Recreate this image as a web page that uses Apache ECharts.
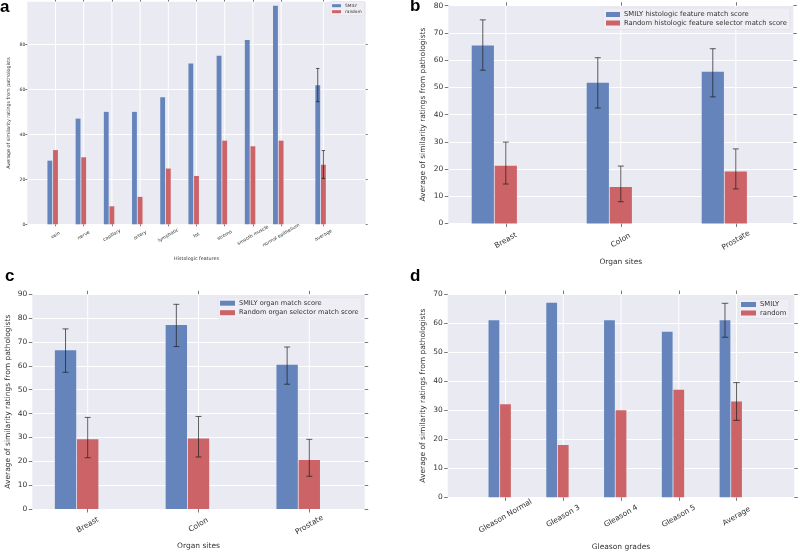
<!DOCTYPE html>
<html><head><meta charset="utf-8">
<script src="https://cdn.jsdelivr.net/npm/echarts@6/dist/echarts.min.js"></script>
<style>html,body{margin:0;padding:0;background:#fff}#c{width:798px;height:552px}</style>
</head><body><div id="c"></div>
<script>
// ---------- Panel a ----------
const aCategories = ['vein','nerve','capillary','artery','lymphatic','fat','stroma','smooth muscle','normal epithelium','average'];
const aPositions = [0,1,2,3,4,5,6,7,8,9.5];
const aSmily  = [28.3,47,50,50,56.5,71.5,75,82,97.2,61.8];
const aRandom = [33,29.8,8,12.2,24.8,21.5,37.2,34.7,37.2,26.5];
const aSmilyLow  = [null,null,null,null,null,null,null,null,null,54.5];
const aSmilyHigh = [null,null,null,null,null,null,null,null,null,69.3];
const aRandomLow  = [null,null,null,null,null,null,null,null,null,20.4];
const aRandomHigh = [null,null,null,null,null,null,null,null,null,32.8];
const aYTicks = [0,20,40,60,80];

// ---------- Panel b ----------
const bCategories = ['Breast','Colon','Prostate'];
const bPositions = [0,1,2];
const bSmily = [65.4,51.7,55.7];
const bSmilyLow = [56.3,42.4,46.5];
const bSmilyHigh = [74.8,60.9,64.2];
const bRandom = [21.2,13.4,19.1];
const bRandomLow = [14.5,8.0,12.7];
const bRandomHigh = [29.9,21.1,27.4];
const bYTicks = [0,10,20,30,40,50,60,70,80];

// ---------- Panel c ----------
const cCategories = ['Breast','Colon','Prostate'];
const cPositions = [0,1,2];
const cSmily = [66.5,77.1,60.5];
const cSmilyLow = [57.3,68.1,52.3];
const cSmilyHigh = [75.5,85.8,67.9];
const cRandom = [29.2,29.6,20.5];
const cRandomLow = [21.5,21.8,13.7];
const cRandomHigh = [38.4,38.8,29.2];
const cYTicks = [0,10,20,30,40,50,60,70,80,90];

// ---------- Panel d ----------
const dCategories = ['Gleason Normal','Gleason 3','Gleason 4','Gleason 5','Average'];
const dPositions = [0,1,2,3,4];
const dSmily = [61,67,61,57,61];
const dRandom = [32,18,30,37,33];
const dSmilyLow = [null,null,null,null,55.1];
const dSmilyHigh = [null,null,null,null,66.8];
const dRandomLow = [null,null,null,null,26.5];
const dRandomHigh = [null,null,null,null,39.5];
const dYTicks = [0,10,20,30,40,50,60,70];

const BLUE = '#6484BB', RED = '#CB6367', BG = '#EAEAF2';
const FONT = 'DejaVu Sans';
const BAR_W = 0.2;

function barRender(offset){
  return function(params, api){
    const x = api.value(0) + offset;
    const v = api.value(1);
    const p1 = api.coord([x - BAR_W/2, v]);
    const p2 = api.coord([x + BAR_W/2, 0]);
    return {type:'rect', shape:{x:p1[0]+0.4, y:p1[1], width:p2[0]-p1[0]-0.8, height:p2[1]-p1[1]}, style: api.style()};
  };
}
function errRender(offset, cap){
  return function(params, api){
    const x = api.value(0) + offset;
    const lo = api.coord([x, api.value(1)]);
    const hi = api.coord([x, api.value(2)]);
    const st = {stroke:'rgba(30,30,30,0.7)', lineWidth:1};
    return {type:'group', children:[
      {type:'line', shape:{x1:lo[0], y1:lo[1], x2:hi[0], y2:hi[1]}, style:st},
      {type:'line', shape:{x1:hi[0]-cap, y1:hi[1], x2:hi[0]+cap, y2:hi[1]}, style:st},
      {type:'line', shape:{x1:lo[0]-cap, y1:lo[1], x2:lo[0]+cap, y2:lo[1]}, style:st}
    ]};
  };
}
function vGridRender(ymax){
  return function(params, api){
    const top = api.coord([api.value(0), ymax]);
    const bot = api.coord([api.value(0), 0]);
    return {type:'line', shape:{x1:top[0], y1:top[1], x2:bot[0], y2:bot[1]}, style:{stroke:'#fff', lineWidth:1}};
  };
}
function pairs(pos, vals){ return pos.map((p,i)=>[p, vals[i]]); }
function errData(pos, lo, hi){ const out=[]; pos.forEach((p,i)=>{ if(lo[i]!=null) out.push([p, lo[i], hi[i]]); }); return out; }

const panels = [
  {grid:{left:27.3, top:1.7, width:338.4, height:222.6}, xmin:-1, xmax:11, ymax:99, yTicks:aYTicks,
   cats:aCategories, pos:aPositions, smily:aSmily, random:aRandom,
   sLo:aSmilyLow, sHi:aSmilyHigh, rLo:aRandomLow, rHi:aRandomHigh,
   names:['SMILY','random'], xName:'Histologic features',
   fs:4.6, nameFs:4.8, yNameGap:15.6, xNameGap:32.4, labelMargin:11, tickLen:2, cap:1.7, lblMargin:2,
   legend:{left:330, top:1.7, itemWidth:9, itemHeight:3, fs:4.3, itemGap:2, padding:[2,3,2,2]}},
  {grid:{left:448.3, top:5.7, width:345, height:217.8}, xmin:-0.5, xmax:2.5, ymax:80, yTicks:bYTicks,
   cats:bCategories, pos:bPositions, smily:bSmily, random:bRandom,
   sLo:bSmilyLow, sHi:bSmilyHigh, rLo:bRandomLow, rHi:bRandomHigh,
   names:['SMILY histologic feature match score','Random histologic feature selector match score'], xName:'Organ sites',
   fs:7.5, nameFs:7.5, yNameGap:21.6, xNameGap:34.8, labelMargin:17, tickLen:3.5, cap:3, lblMargin:5,
   legend:{left:603, top:8, itemWidth:14, itemHeight:5, fs:6.8, itemGap:1.5, padding:[3,3,3,3]}},
  {grid:{left:32.3, top:294.3, width:332.4, height:214.7}, xmin:-0.5, xmax:2.5, ymax:90, yTicks:cYTicks,
   cats:cCategories, pos:cPositions, smily:cSmily, random:cRandom,
   sLo:cSmilyLow, sHi:cSmilyHigh, rLo:cRandomLow, rHi:cRandomHigh,
   names:['SMILY organ match score','Random organ selector match score'], xName:'Organ sites',
   fs:7.5, nameFs:7.5, yNameGap:20.6, xNameGap:32.7, labelMargin:16, tickLen:3.5, cap:3, lblMargin:5,
   legend:{left:218, top:297.7, itemWidth:15, itemHeight:5, fs:6.6, itemGap:2.5, padding:[2,3,2,2]}},
  {grid:{left:447.7, top:294, width:346.6, height:207}, xmin:-1, xmax:5, ymax:70, yTicks:dYTicks,
   cats:dCategories, pos:dPositions, smily:dSmily, random:dRandom,
   sLo:dSmilyLow, sHi:dSmilyHigh, rLo:dRandomLow, rHi:dRandomHigh,
   names:['SMILY','random'], xName:'Gleason grades',
   fs:7.5, nameFs:7.5, yNameGap:21, xNameGap:45.7, labelMargin:19, tickLen:3.5, cap:3.3, lblMargin:5,
   legend:{left:739, top:299, itemWidth:15, itemHeight:5, fs:6.8, itemGap:1.5, padding:[2,3,2,2]}}
];

const option = {animation:false, backgroundColor:'#fff', grid:[], xAxis:[], yAxis:[], series:[], legend:[], title:[]};
const tickStyle = {color:'#555', width:0.8};
panels.forEach((P, i) => {
  option.grid.push(Object.assign({backgroundColor:BG, show:true, borderWidth:0}, P.grid));
  const xi = option.xAxis.length, yi = option.yAxis.length;
  option.xAxis.push({type:'value', gridIndex:i, min:P.xmin, max:P.xmax, position:'bottom',
    axisLine:{show:false, onZero:false},
    axisTick:{show:true, inside:false, length:P.tickLen, lineStyle:tickStyle, customValues:P.pos},
    axisLabel:{customValues:P.pos, formatter:(v)=>P.cats[P.pos.indexOf(v)], rotate:30, align:'center', verticalAlign:'middle',
      margin:P.labelMargin, fontSize:P.fs, color:'#333', fontFamily:FONT},
    splitLine:{show:false},
    name:P.xName, nameLocation:'middle', nameGap:P.xNameGap, nameTextStyle:{fontSize:P.nameFs, color:'#333', fontFamily:FONT}});
  option.xAxis.push({type:'value', gridIndex:i, min:P.xmin, max:P.xmax, position:'top',
    axisLine:{show:false, onZero:false}, axisLabel:{show:false}, splitLine:{show:false},
    axisTick:{show:true, inside:false, length:P.tickLen, lineStyle:tickStyle, customValues:P.pos}});
  option.yAxis.push({type:'value', gridIndex:i, min:0, max:P.ymax, position:'left',
    axisLine:{show:false, onZero:false},
    axisTick:{show:true, inside:false, length:P.tickLen, lineStyle:tickStyle, customValues:P.yTicks},
    axisLabel:{customValues:P.yTicks, fontSize:P.fs, color:'#333', fontFamily:FONT, margin:P.lblMargin},
    splitLine:{show:true, lineStyle:{color:'#fff', width:1}},
    name:'Average of similarity ratings from pathologists', nameLocation:'middle', nameGap:P.yNameGap,
    nameTextStyle:{fontSize:P.nameFs, color:'#333', fontFamily:FONT}});
  option.yAxis.push({type:'value', gridIndex:i, min:0, max:P.ymax, position:'right',
    axisLine:{show:false, onZero:false}, axisLabel:{show:false}, splitLine:{show:false},
    axisTick:{show:true, inside:false, length:P.tickLen, lineStyle:tickStyle, customValues:P.yTicks}});
  option.series.push({type:'custom', xAxisIndex:xi, yAxisIndex:yi, renderItem:vGridRender(P.ymax),
    data:P.pos.map(p=>[p]), encode:{x:0}, z:1, silent:true});
  option.series.push({type:'custom', name:P.names[0], xAxisIndex:xi, yAxisIndex:yi, itemStyle:{color:BLUE},
    renderItem:barRender(-BAR_W), data:pairs(P.pos, P.smily), encode:{x:0, y:1}, z:2});
  option.series.push({type:'custom', name:P.names[1], xAxisIndex:xi, yAxisIndex:yi, itemStyle:{color:RED},
    renderItem:barRender(0), data:pairs(P.pos, P.random), encode:{x:0, y:1}, z:2});
  option.series.push({type:'custom', xAxisIndex:xi, yAxisIndex:yi, renderItem:errRender(-BAR_W, P.cap),
    data:errData(P.pos, P.sLo, P.sHi), encode:{x:0, y:[1,2]}, z:3, silent:true});
  option.series.push({type:'custom', xAxisIndex:xi, yAxisIndex:yi, renderItem:errRender(0, P.cap),
    data:errData(P.pos, P.rLo, P.rHi), encode:{x:0, y:[1,2]}, z:3, silent:true});
  const L = P.legend;
  option.legend.push({data:P.names, orient:'vertical', left:L.left, top:L.top, icon:'rect',
    itemWidth:L.itemWidth, itemHeight:L.itemHeight, itemGap:L.itemGap, padding:L.padding,
    backgroundColor:'rgba(238,238,244,0.9)', borderColor:'#e2e2e8', borderWidth:0.8, borderRadius:1,
    textStyle:{fontSize:L.fs, color:'#333', fontFamily:FONT, padding:[0,0,0,-1]}, selectedMode:false});
});
const letters = [['a',0,-1],['b',410,-2],['c',5,268],['d',410,268]];
letters.forEach(([t,l,tp]) => option.title.push({text:t, left:l, top:tp, padding:0,
  textStyle:{fontSize:17, fontWeight:'bold', color:'#000', fontFamily:'Liberation Sans'}}));

const chart = echarts.init(document.getElementById('c'), null, {renderer:'canvas'});
chart.setOption(option);
</script></body></html>
